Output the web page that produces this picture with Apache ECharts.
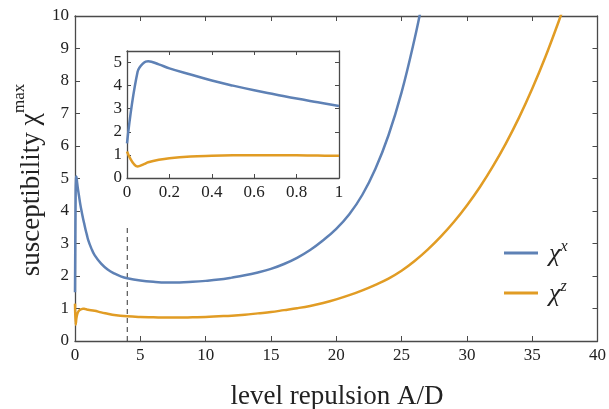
<!DOCTYPE html>
<html><head><meta charset="utf-8">
<script src="https://cdn.jsdelivr.net/npm/echarts@6/dist/echarts.min.js"></script>
<style>html,body{margin:0;padding:0;background:#fff}#c{width:609px;height:409px}</style>
</head><body><div id="c"></div>
<script>
// Small-A/D detail (used by inset and the start of the main curves)
const insetX      = [0, 0.05, 0.08, 0.1, 0.15, 0.2, 0.3, 0.4, 0.5, 0.6, 0.7, 0.8, 0.9, 1.0];
const insetChiX   = [1.5, 4.6, 5.0, 5.06, 4.92, 4.75, 4.48, 4.22, 4.0, 3.8, 3.62, 3.44, 3.28, 3.12];
const insetChiZ   = [1.15, 0.5, 0.6, 0.68, 0.79, 0.86, 0.93, 0.96, 0.98, 0.99, 0.99, 0.98, 0.97, 0.96];
// Main range
const tailXBlue   = [1.25, 1.5, 2, 2.5, 3, 3.5, 4, 5, 6, 7, 8, 9, 10, 11, 12, 13, 14, 15, 16, 17, 18, 19, 20, 21, 22, 23, 24, 25, 26, 26.6];
const tailChiX    = [2.85, 2.64, 2.38, 2.2, 2.08, 1.99, 1.93, 1.86, 1.82, 1.8, 1.8, 1.82, 1.85, 1.89, 1.95, 2.02, 2.11, 2.22, 2.37, 2.56, 2.8, 3.1, 3.45, 3.9, 4.5, 5.3, 6.33, 7.65, 9.3, 10.45];
const tailXOrange = [1.5, 2, 2.5, 3, 4, 5, 6, 7, 8, 9, 10, 11, 12, 13, 14, 15, 16, 17, 18, 19, 20, 21, 22, 23, 24, 25, 26, 27, 28, 29, 30, 31, 32, 33, 34, 35, 36, 37, 37.3];
const tailChiZ    = [0.93, 0.88, 0.84, 0.8, 0.76, 0.74, 0.73, 0.72, 0.72, 0.73, 0.74, 0.76, 0.78, 0.81, 0.85, 0.89, 0.95, 1.01, 1.08, 1.17, 1.28, 1.41, 1.56, 1.73, 1.92, 2.16, 2.46, 2.81, 3.21, 3.66, 4.17, 4.74, 5.38, 6.09, 6.88, 7.76, 8.73, 9.8, 10.15];
const dashX = [4, 4];
const dashY = [0, 3.5];
const mainXTicks = {min: 0, max: 40, interval: 5};
const mainYTicks = {min: 0, max: 10, interval: 1};
const insetXTicks = {min: 0, max: 1, interval: 0.2};
const insetYTicks = {min: 0, max: 5.5, interval: 1};

const BLUE = '#5E81B5', ORANGE = '#E19C24', AX = '#4a4a4a';
const SERIF = 'Liberation Serif';
const zip = (xs, ys) => xs.map((x, i) => [x, ys[i]]);

function axis(type, grid, pos, ticks, showLabel, extra) {
  return Object.assign({
    type: 'value', gridIndex: grid, position: pos,
    min: ticks.min, max: ticks.max, interval: ticks.interval,
    axisLine: {show: true, onZero: false, lineStyle: {color: AX, width: 1.3}},
    axisTick: {show: true, inside: true, length: 5, lineStyle: {color: AX, width: 1}},
    axisLabel: {show: showLabel, color: '#222', fontFamily: SERIF, fontSize: 17, margin: 6},
    splitLine: {show: false}
  }, extra || {});
}

const chart = echarts.init(document.getElementById('c'), null, {renderer: 'canvas'});
const lineBase = {type: 'line', showSymbol: false, symbol: 'none', smooth: 0.4, z: 3};
chart.setOption({
  animation: false,
  backgroundColor: '#fff',
  grid: [
    {left: 75, top: 16, width: 523, height: 325},
    {left: 127, top: 51, width: 212, height: 127, show: true, backgroundColor: '#fff', borderWidth: 0, z: 5}
  ],
  xAxis: [
    axis('x', 0, 'bottom', mainXTicks, true),
    axis('x', 0, 'top', mainXTicks, false),
    axis('x', 1, 'bottom', insetXTicks, true, {z: 6, axisTick: {show: true, inside: true, length: 4, lineStyle: {color: AX}}}),
    axis('x', 1, 'top', insetXTicks, false, {z: 6, axisTick: {show: true, inside: true, length: 4, lineStyle: {color: AX}}})
  ],
  yAxis: [
    axis('y', 0, 'left', mainYTicks, true),
    axis('y', 0, 'right', mainYTicks, false),
    axis('y', 1, 'left', insetYTicks, true, {z: 6, axisLabel: {show: true, showMaxLabel: false, color: '#222', fontFamily: SERIF, fontSize: 17, margin: 5}, axisTick: {show: true, inside: true, length: 4, lineStyle: {color: AX}}}),
    axis('y', 1, 'right', insetYTicks, false, {z: 6, axisTick: {show: true, inside: true, length: 4, lineStyle: {color: AX}}})
  ],
  legend: {
    data: ['x', 'z'], orient: 'vertical', left: 499, top: 234,
    itemWidth: 34, itemHeight: 3, itemGap: 12, icon: 'rect',
    formatter: n => '{c|χ}{s|' + n + '}',
    textStyle: {rich: {
      c: {fontFamily: SERIF, fontSize: 26, fontStyle: 'italic', color: '#222', padding: [0, 0, 0, 6], lineHeight: 28, verticalAlign: 'bottom'},
      s: {fontFamily: SERIF, fontSize: 16, fontStyle: 'italic', color: '#222', lineHeight: 28, verticalAlign: 'top'}
    }}
  },
  series: [
    Object.assign({}, lineBase, {name: 'x', xAxisIndex: 0, yAxisIndex: 0, color: BLUE, lineStyle: {color: BLUE, width: 2.5},
      data: zip(insetX, insetChiX).concat(zip(tailXBlue, tailChiX))}),
    Object.assign({}, lineBase, {name: 'z', xAxisIndex: 0, yAxisIndex: 0, color: ORANGE, lineStyle: {color: ORANGE, width: 2.5},
      data: zip(insetX, insetChiZ).concat(zip(tailXOrange, tailChiZ))}),
    {type: 'line', name: 'dash', xAxisIndex: 0, yAxisIndex: 0, symbol: 'none', data: zip(dashX, dashY),
      lineStyle: {color: '#333', width: 1, type: [5, 4]}, z: 2},
    Object.assign({}, lineBase, {name: 'ix', xAxisIndex: 2, yAxisIndex: 2, color: BLUE, lineStyle: {color: BLUE, width: 2.5}, z: 7,
      data: zip(insetX, insetChiX)}),
    Object.assign({}, lineBase, {name: 'iz', xAxisIndex: 2, yAxisIndex: 2, color: ORANGE, lineStyle: {color: ORANGE, width: 2.5}, z: 7,
      data: zip(insetX, insetChiZ)})
  ],
  graphic: [
    {type: 'text', x: 28, y: 180, rotation: Math.PI / 2, style: {
      text: '{a|susceptibility }{b|χ}{s|max}', textAlign: 'center', textVerticalAlign: 'middle',
      rich: {
        a: {fontFamily: SERIF, fontSize: 27, fill: '#222', lineHeight: 34, verticalAlign: 'bottom'},
        b: {fontFamily: SERIF, fontSize: 28, fill: '#222', lineHeight: 34, verticalAlign: 'bottom'},
        s: {fontFamily: SERIF, fontSize: 17, fill: '#222', lineHeight: 34, verticalAlign: 'top'}
      }}},
    {type: 'text', x: 337, y: 397, style: {text: 'level repulsion A/D', font: '27px "Liberation Serif"', fill: '#222',
      textAlign: 'center', textVerticalAlign: 'middle'}}
  ]
});
</script></body></html>
